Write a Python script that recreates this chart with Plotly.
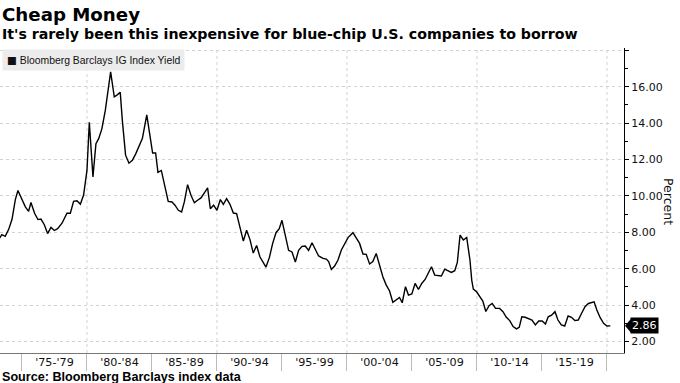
import plotly.graph_objects as go

# ---- data ----
years = [
    1973.20, 1973.45, 1973.71, 1973.97, 1974.23, 1974.49, 1974.69, 1975.00, 1975.26, 1975.51,
    1975.69, 1975.97, 1976.23, 1976.46, 1976.72, 1976.97, 1977.23, 1977.49, 1977.74, 1978.08,
    1978.46, 1978.72, 1978.97, 1979.23, 1979.49, 1979.74, 1980.00, 1980.18, 1980.46, 1980.69,
    1980.90, 1981.15, 1981.41, 1981.82, 1982.10, 1982.30, 1982.56, 1982.72, 1982.97, 1983.23,
    1983.49, 1983.74, 1984.00, 1984.26, 1984.60, 1984.85, 1985.05, 1985.28, 1985.46, 1985.72,
    1985.98, 1986.25, 1986.54, 1986.77, 1987.03, 1987.28, 1987.49, 1987.74, 1988.00, 1988.26,
    1988.51, 1988.77, 1989.03, 1989.28, 1989.49, 1989.74, 1990.00, 1990.26, 1990.49, 1990.74,
    1991.00, 1991.26, 1991.51, 1991.77, 1992.03, 1992.28, 1992.54, 1992.79, 1993.05, 1993.31,
    1993.56, 1993.77, 1994.03, 1994.28, 1994.54, 1994.79, 1995.00, 1995.26, 1995.51, 1995.77,
    1996.03, 1996.28, 1996.54, 1996.79, 1997.05, 1997.31, 1997.56, 1997.82, 1998.16, 1998.41,
    1998.59, 1998.80, 1999.05, 1999.31, 1999.57, 1999.82, 2000.08, 2000.46, 2000.72, 2000.97,
    2001.23, 2001.48, 2001.74, 2001.99, 2002.25, 2002.51, 2002.76, 2003.02, 2003.27, 2003.53,
    2003.79, 2004.04, 2004.25, 2004.50, 2004.73, 2004.99, 2005.24, 2005.50, 2005.75, 2006.01,
    2006.27, 2006.50, 2006.75, 2007.01, 2007.26, 2007.52, 2007.77, 2008.03, 2008.29, 2008.49,
    2008.70, 2008.95, 2009.21, 2009.46, 2009.60, 2009.72, 2009.97, 2010.20, 2010.45, 2010.68,
    2010.93, 2011.17, 2011.43, 2011.74, 2012.00, 2012.26, 2012.52, 2012.78, 2013.04, 2013.25,
    2013.45, 2013.71, 2013.97, 2014.23, 2014.49, 2014.75, 2015.01, 2015.27, 2015.48, 2015.74,
    2016.00, 2016.23, 2016.49, 2016.75, 2017.01, 2017.27, 2017.53, 2017.79, 2018.05, 2018.31,
    2018.57, 2018.83, 2019.01, 2019.22, 2019.48, 2019.74, 2020.00, 2020.26,
]
yields = [
    7.60, 7.87, 7.78, 8.15, 8.70, 9.80, 10.30, 9.80, 9.40, 9.15,
    9.64, 9.05, 8.70, 8.73, 8.42, 7.93, 8.27, 8.10, 8.20, 8.50,
    9.05, 9.05, 9.70, 9.73, 9.55, 10.05, 11.40, 14.05, 11.05, 12.87,
    13.15, 13.70, 14.70, 16.82, 15.45, 15.54, 15.69, 14.15, 12.24, 11.80,
    11.96, 12.30, 12.70, 13.15, 14.45, 13.30, 12.36, 12.36, 11.30, 11.40,
    10.55, 9.70, 9.67, 9.49, 9.21, 9.12, 9.67, 10.62, 10.04, 9.63,
    9.76, 9.89, 10.17, 10.44, 9.30, 9.49, 9.21, 9.80, 9.54, 9.85,
    9.54, 9.06, 9.03, 8.26, 7.52, 8.11, 7.60, 6.86, 7.28, 6.64,
    6.31, 6.09, 6.61, 7.38, 7.98, 8.20, 8.66, 7.89, 7.01, 6.92,
    6.37, 7.01, 7.23, 7.25, 7.01, 7.43, 7.10, 6.70, 6.57, 6.53,
    6.39, 5.96, 6.15, 6.48, 7.03, 7.36, 7.71, 7.98, 7.71, 7.39,
    6.81, 6.79, 6.26, 6.39, 6.84, 6.20, 5.56, 5.10, 4.79, 4.15,
    4.28, 4.42, 4.13, 5.01, 4.55, 4.61, 5.19, 4.86, 5.19, 5.41,
    5.78, 6.11, 5.65, 5.63, 5.60, 5.98, 5.89, 5.80, 5.89, 6.35,
    7.85, 7.58, 7.72, 6.48, 5.36, 4.88, 4.73, 4.50, 4.22, 3.65,
    3.97, 4.09, 3.82, 3.82, 3.64, 3.33, 3.15, 2.82, 2.69, 2.78,
    3.36, 3.33, 3.27, 3.18, 2.91, 3.13, 3.13, 2.96, 3.36, 3.45,
    3.64, 3.18, 2.91, 2.85, 3.40, 3.33, 3.15, 3.18, 3.55, 3.91,
    4.09, 4.13, 4.18, 3.73, 3.31, 3.00, 2.85, 2.86,
]
period_starts = [1975, 1980, 1985, 1990, 1995, 2000, 2005, 2010, 2015]
period_labels = ["'75-'79", "'80-'84", "'85-'89", "'90-'94", "'95-'99",
                 "'00-'04", "'05-'09", "'10-'14", "'15-'19"]
period_bounds = [1975, 1980, 1985, 1990, 1995, 2000, 2005, 2010, 2015, 2020]
decade_grid = [1980, 1990, 2000, 2010, 2020]
y_major = [2, 4, 6, 8, 10, 12, 14, 16, 18]
y_major_text = ["2.00", "4.00", "6.00", "8.00", "10.00", "12.00", "14.00", "16.00", ""]
y_minor = [3, 5, 7, 9, 11, 13, 15, 17]

title = "Cheap Money"
subtitle = "It's rarely been this inexpensive for blue-chip U.S. companies to borrow"
series_name = "Bloomberg Barclays IG Index Yield"
source = "Source: Bloomberg Barclays index data"

# ---- layout helpers ----
W, H = 680, 383
ML, MR, MT, MB = 0, 56, 48, 30
PW = W - ML - MR
PH = H - MT - MB


def px_x(x):
    return (x - ML) / PW


def px_y(y):
    return (H - MB - y) / PH


fig = go.Figure()
fig.add_trace(go.Scatter(
    x=years, y=yields, mode="lines",
    line=dict(color="black", width=1.4),
    name=series_name, showlegend=False, hoverinfo="skip",
))

fig.update_layout(
    width=W, height=H,
    margin=dict(l=ML, r=MR, t=MT, b=MB, autoexpand=False),
    paper_bgcolor="white", plot_bgcolor="white",
    showlegend=False,
)

fig.update_xaxes(
    range=[1973.31, 2021.31],
    tickmode="array",
    tickvals=[s + 2.5 for s in period_starts],
    ticktext=period_labels,
    ticks="",
    showgrid=False, zeroline=False,
    showline=True, linecolor="#777", linewidth=1,
    tickfont=dict(family="DejaVu Sans", size=11.2, color="#111"),
    ticklabelstandoff=-1,
    minor=dict(tickmode="array", tickvals=period_bounds, ticks="outside",
               ticklen=17, tickcolor="#bbbbbb", tickwidth=1, showgrid=False),
)

fig.update_yaxes(
    side="right",
    range=[1.368, 18.13],
    tickmode="array", tickvals=y_major, ticktext=y_major_text,
    ticks="outside", ticklen=4, tickcolor="black", tickwidth=1,
    showline=True, linecolor="black", linewidth=1,
    showgrid=True, gridcolor="#d2d2d2", griddash="dot", gridwidth=1,
    zeroline=False,
    tickfont=dict(family="DejaVu Sans", size=11, color="#111"),
    minor=dict(tickmode="array", tickvals=y_minor, ticks="outside",
               ticklen=3, tickcolor="black", tickwidth=1, showgrid=False),
)

for g in decade_grid:
    fig.add_shape(type="line", xref="x", yref="paper", x0=g, x1=g, y0=0, y1=1,
                  line=dict(color="#d2d2d2", width=1, dash="dot"), layer="below")

annotations = [
    dict(text="<b>" + title + "</b>", x=px_x(0), y=px_y(14), xanchor="left", yanchor="middle",
         font=dict(family="DejaVu Sans", size=18.2, color="black")),
    dict(text="<b>" + subtitle + "</b>", x=px_x(0), y=px_y(34), xanchor="left", yanchor="middle",
         font=dict(family="DejaVu Sans", size=14.2, color="black")),
    dict(text="<span style='font-family:DejaVu Sans'>■</span> " + series_name,
         x=px_x(2), y=px_y(60), xanchor="left", yanchor="middle",
         bgcolor="#ececec", borderpad=4,
         font=dict(family="Liberation Sans", size=10.4, color="#111")),
    dict(text="<b>" + source + "</b>", x=px_x(0), y=px_y(377.5), xanchor="left", yanchor="middle",
         font=dict(family="Liberation Sans", size=12.6, color="black")),
    dict(text="Percent", x=px_x(669), y=px_y(201), xanchor="center", yanchor="middle",
         textangle=90, font=dict(family="DejaVu Sans", size=12.5, color="#111")),
]
for a in annotations:
    a.update(xref="paper", yref="paper", showarrow=False)
    fig.add_annotation(**a)

# last-value marker: pointer triangle + black label box
fig.add_shape(type="path", xref="paper", yref="y", xsizemode="pixel", ysizemode="pixel",
              xanchor=1, yanchor=yields[-1], path="M 1,0 L 7,7 L 7,-7 Z",
              fillcolor="black", line=dict(color="black", width=0))
fig.add_annotation(
    text=f"{yields[-1]:.2f}", xref="paper", yref="y", x=1, y=yields[-1],
    xanchor="left", yanchor="middle", xshift=6, showarrow=False,
    bgcolor="black", borderpad=1,
    font=dict(family="DejaVu Sans", size=11, color="white"),
)

fig.write_html("out.html", config={"displayModeBar": False},
               post_script="document.body.style.margin='0px';")
